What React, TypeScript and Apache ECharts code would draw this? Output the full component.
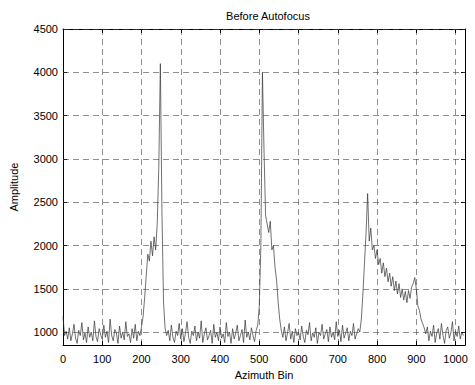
import React, { useEffect, useRef } from "react";
import * as echarts from "echarts";

const chartTitle = "Before Autofocus";
const xAxisName = "Azimuth Bin";
const yAxisName = "Amplitude";
const binStep = 4;
const xMin = 0;
const xMax = 1024;
const xInterval = 100;
const yMin = 850;
const yMax = 4500;
const yTicks = [1000, 1500, 2000, 2500, 3000, 3500, 4000, 4500];

const amp000 = [1180, 960, 1010, 920, 1050, 900, 980, 1090, 930, 870, 1020, 960, 1110, 910, 990, 880, 1060, 940, 1000, 900, 1130, 950, 890, 1040, 970];
const amp100 = [920, 1080, 940, 1010, 880, 1150, 960, 900, 1030, 990, 870, 1070, 930, 1000, 910, 1120, 950, 980, 880, 1040, 930, 1090, 900, 1010, 960];
const amp200 = [1060, 1180, 1400, 1650, 1900, 1820, 2050, 1880, 2100, 1950, 2250, 2900, 4100, 2400, 1350, 1050, 960, 1020, 900, 1080, 940, 880, 1010, 960, 1100];
const amp300 = [920, 1040, 890, 990, 1120, 940, 870, 1010, 960, 1070, 900, 1000, 930, 1130, 880, 980, 1050, 910, 960, 1020, 870, 1090, 940, 1000, 900];
const amp400 = [1060, 930, 980, 880, 1110, 950, 1000, 870, 1040, 920, 990, 1080, 900, 960, 1030, 880, 1140, 940, 1000, 910, 1050, 960, 890, 1020, 1080];
const amp500 = [1300, 2000, 4000, 3100, 2350, 2250, 2150, 2280, 1950, 2000, 1750, 1600, 1350, 1150, 1020, 940, 1060, 900, 990, 1100, 920, 1010, 880, 1040, 960];
const amp600 = [1000, 910, 1070, 950, 880, 1020, 970, 1110, 900, 990, 940, 1050, 870, 1000, 960, 1090, 920, 980, 1030, 890, 1060, 940, 1000, 910, 1120];
const amp700 = [950, 1020, 890, 1080, 930, 990, 1050, 900, 1010, 960, 1100, 920, 980, 1040, 1000, 1150, 1450, 1800, 2150, 2600, 2050, 2200, 1950, 2000, 1850];
const amp800 = [1950, 1780, 1850, 1680, 1800, 1640, 1740, 1580, 1680, 1530, 1640, 1480, 1590, 1440, 1560, 1400, 1500, 1370, 1470, 1340, 1480, 1390, 1520, 1560, 1630];
const amp900 = [1500, 1300, 1250, 1150, 1100, 1050, 980, 1060, 900, 1010, 950, 1080, 880, 990, 1040, 920, 1100, 960, 870, 1020, 1060, 930, 990, 1120, 900];
const amp1000 = [1010, 950, 1070, 920, 1000, 960];

const amplitude = [
  ...amp000, ...amp100, ...amp200, ...amp300, ...amp400,
  ...amp500, ...amp600, ...amp700, ...amp800, ...amp900, ...amp1000,
];

const FONT = "Liberation Sans, Arial, Helvetica, sans-serif";

export default function App() {
  const ref = useRef<HTMLDivElement>(null);
  useEffect(() => {
    if (!ref.current) return;
    const chart = echarts.init(ref.current, null, { renderer: "svg" });
    const data = amplitude.map((v, i) => [i * binStep, v]);
    const dashStyle = { color: "#444", width: 0.6, type: [6, 4] as any };
    const axisLine = { show: true, onZero: false, lineStyle: { color: "#000", width: 1 } };
    const tick = { show: true, inside: true, length: 4, lineStyle: { color: "#000", width: 1 } };
    const labelText = { fontSize: 11, color: "#000", fontFamily: FONT };
    chart.setOption({
      animation: false,
      backgroundColor: "#fff",
      textStyle: { fontFamily: FONT },
      title: {
        text: chartTitle,
        left: 263,
        top: 5,
        textAlign: "center",
        textStyle: { fontSize: 11, fontWeight: "normal", color: "#000", fontFamily: FONT },
      },
      grid: { left: 61, right: 10, top: 29, bottom: 32, containLabel: false },
      xAxis: [
        {
          type: "value",
          min: xMin,
          max: xMax,
          interval: xInterval,
          name: xAxisName,
          nameLocation: "middle",
          nameGap: 22,
          nameTextStyle: labelText,
          axisLine,
          axisTick: tick,
          splitLine: { show: true, lineStyle: dashStyle },
          axisLabel: { show: true, showMaxLabel: false, margin: 8, ...labelText, formatter: (v: number) => String(v) },
        },
        {
          type: "value",
          position: "top",
          min: xMin,
          max: xMax,
          interval: xInterval,
          axisLine,
          axisTick: tick,
          splitLine: { show: false },
          axisLabel: { show: false },
        },
      ],
      yAxis: [
        {
          type: "value",
          min: yMin,
          max: yMax,
          name: yAxisName,
          nameLocation: "middle",
          nameGap: 44,
          nameTextStyle: labelText,
          axisLine,
          axisTick: { ...tick, customValues: yTicks },
          splitLine: { show: false },
          axisLabel: { show: true, margin: 5, ...labelText, customValues: yTicks, formatter: (v: number) => String(v) },
        },
        {
          type: "value",
          position: "right",
          min: yMin,
          max: yMax,
          axisLine,
          axisTick: { ...tick, customValues: yTicks },
          splitLine: { show: false },
          axisLabel: { show: false },
        },
      ],
      series: [
        {
          type: "line",
          xAxisIndex: 0,
          yAxisIndex: 0,
          data,
          showSymbol: false,
          symbol: "none",
          lineStyle: { color: "#333", width: 0.7 },
          markLine: {
            silent: true,
            symbol: "none",
            label: { show: false },
            lineStyle: dashStyle,
            data: yTicks.map((v) => ({ yAxis: v })),
          },
        },
      ],
    });
    return () => chart.dispose();
  }, []);
  return (
    <div
      ref={ref}
      style={{ position: "fixed", left: 0, top: 0, width: 475, height: 385, background: "#fff" }}
    />
  );
}
